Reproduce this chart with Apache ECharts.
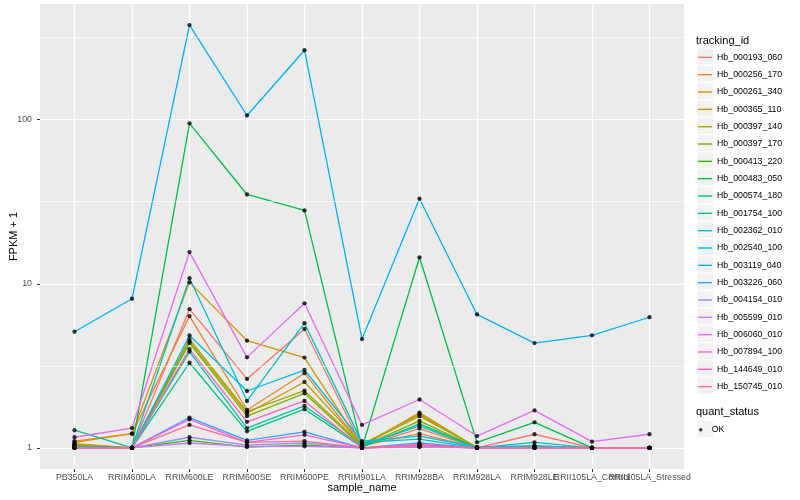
<!DOCTYPE html>
<html><head><meta charset="utf-8">
<script src="https://cdn.jsdelivr.net/npm/echarts@6/dist/echarts.min.js"></script>
<style>html,body{margin:0;padding:0;background:#fff}#c{width:800px;height:500px}</style>
</head><body><div id="c"></div>
<script>
const categories = ['PB350LA','RRIM600LA','RRIM600LE','RRIM600SE','RRIM600PE','RRIM901LA','RRIM928BA','RRIM928LA','RRIM928LE','RRII105LA_Control','RRII105LA_Stressed'];
const trackingIds = ['Hb_000193_060','Hb_000256_170','Hb_000261_340','Hb_000365_110','Hb_000397_140','Hb_000397_170','Hb_000413_220','Hb_000483_050','Hb_000574_180','Hb_001754_100','Hb_002362_010','Hb_002540_100','Hb_003119_040','Hb_003226_060','Hb_004154_010','Hb_005599_010','Hb_006060_010','Hb_007894_100','Hb_144649_010','Hb_150745_010'];

const hb_000193_060 = [1.05, 1.00, 7.0, 2.63, 5.3, 1.02, 1.31, 1.00, 1.21, 1.00, 1.00];
const hb_000256_170 = [1.10, 1.22, 6.35, 1.70, 2.85, 1.03, 1.22, 1.00, 1.01, 1.00, 1.00];
const hb_000261_340 = [1.08, 1.22, 10.2, 4.5, 3.55, 1.02, 1.64, 1.00, 1.02, 1.00, 1.00];
const hb_000365_110 = [1.06, 1.00, 4.44, 1.62, 2.52, 1.05, 1.60, 1.00, 1.02, 1.00, 1.00];
const hb_000397_140 = [1.04, 1.00, 4.6, 1.66, 2.23, 1.04, 1.56, 1.01, 1.01, 1.00, 1.00];
const hb_000397_170 = [1.03, 1.00, 4.35, 1.56, 2.15, 1.02, 1.46, 1.00, 1.00, 1.00, 1.00];
const hb_000413_220 = [1.00, 1.00, 1.11, 1.01, 1.04, 1.00, 1.02, 1.00, 1.00, 1.00, 1.00];
const hb_000483_050 = [1.00, 1.00, 95, 35, 28, 1.00, 14.5, 1.08, 1.43, 1.00, 1.00];
const hb_000574_180 = [1.02, 1.00, 3.3, 1.26, 1.72, 1.01, 1.40, 1.00, 1.00, 1.00, 1.00];
const hb_001754_100 = [1.28, 1.00, 3.86, 1.32, 1.80, 1.03, 1.36, 1.00, 1.00, 1.00, 1.00];
const hb_002362_010 = [1.02, 1.00, 10.8, 1.93, 5.75, 1.08, 1.13, 1.00, 1.08, 1.00, 1.00];
const hb_002540_100 = [1.01, 1.00, 4.84, 2.22, 2.98, 1.10, 1.18, 1.01, 1.03, 1.00, 1.00];
const hb_003119_040 = [5.1, 8.1, 377, 106, 265, 4.6, 33, 6.5, 4.35, 4.85, 6.25];
const hb_003226_060 = [1.00, 1.00, 1.53, 1.11, 1.25, 1.00, 1.07, 1.00, 1.00, 1.00, 1.00];
const hb_004154_010 = [1.00, 1.00, 1.16, 1.04, 1.07, 1.00, 1.02, 1.00, 1.00, 1.00, 1.00];
const hb_005599_010 = [1.00, 1.00, 1.07, 1.02, 1.02, 1.00, 1.01, 1.00, 1.00, 1.00, 1.00];
const hb_006060_010 = [1.16, 1.32, 15.6, 3.56, 7.6, 1.38, 1.97, 1.18, 1.69, 1.09, 1.21];
const hb_007894_100 = [1.00, 1.00, 1.49, 1.08, 1.20, 1.00, 1.04, 1.00, 1.00, 1.00, 1.00];
const hb_144649_010 = [1.00, 1.00, 4.0, 1.44, 1.93, 1.00, 1.05, 1.00, 1.00, 1.00, 1.00];
const hb_150745_010 = [1.00, 1.00, 1.38, 1.08, 1.10, 1.00, 1.03, 1.00, 1.00, 1.00, 1.00];

const seriesValues = [hb_000193_060, hb_000256_170, hb_000261_340, hb_000365_110, hb_000397_140, hb_000397_170, hb_000413_220, hb_000483_050, hb_000574_180, hb_001754_100, hb_002362_010, hb_002540_100, hb_003119_040, hb_003226_060, hb_004154_010, hb_005599_010, hb_006060_010, hb_007894_100, hb_144649_010, hb_150745_010];

const yTicks = [1, 10, 100];
const yMinorTicks = [3.1623, 31.623, 316.23];
const statusLevels = ['OK'];

const palette = ['#F8766D','#EA8331','#D89000','#C09B00','#A3A500','#7CAE00','#39B600','#00BB4E','#00BF7D','#00C1A3','#00BFC4','#00BAE0','#00B0F6','#35A2FF','#9590FF','#C77CFF','#E76BF3','#FA62DB','#FF62BC','#FF6C91'];

const font = '"Liberation Sans", Arial, Helvetica, sans-serif';
const yMin = 0.743, yMax = 507;
const keyH = 17.33, keyTop = 48, okTop = 420.5;

const chart = echarts.init(document.getElementById('c'), null, {renderer: 'canvas'});

const lineSeries = trackingIds.map((id, i) => ({
  name: id, type: 'line', xAxisIndex: 1, yAxisIndex: 1,
  data: seriesValues[i], showSymbol: false, symbol: 'none',
  lineStyle: {width: 1.3, color: palette[i]}, itemStyle: {color: palette[i]},
  emphasis: {disabled: true}, z: 2
}));

const pointData = [];
seriesValues.forEach(arr => arr.forEach((v, j) => pointData.push([categories[j], v])));

const keyRects = trackingIds.map((id, i) => ({
  type: 'rect', shape: {x: 697, y: keyTop + i * keyH, width: 16.5, height: keyH},
  style: {fill: '#F2F2F2', stroke: '#FFFFFF', lineWidth: 1}, z: 0, silent: true
}));
keyRects.push({type: 'rect', shape: {x: 697, y: okTop, width: 16.5, height: keyH},
  style: {fill: '#F2F2F2', stroke: '#FFFFFF', lineWidth: 1}, z: 0, silent: true});

const option = {
  animation: false,
  backgroundColor: '#FFFFFF',
  textStyle: {fontFamily: font},
  title: [
    {text: 'tracking_id', left: 696, top: 35, padding: 0, textStyle: {fontSize: 11, fontWeight: 'normal', color: '#000', fontFamily: font}},
    {text: 'quant_status', left: 696, top: 406, padding: 0, textStyle: {fontSize: 11, fontWeight: 'normal', color: '#000', fontFamily: font}}
  ],
  grid: [
    {left: 40, right: 116, top: 4, bottom: 31, show: true, backgroundColor: '#EBEBEB', borderWidth: 0, containLabel: false, outerBoundsMode: 'none'},
    {left: 74.5, right: 150.5, top: 4, bottom: 31, show: false, containLabel: false, outerBoundsMode: 'none'}
  ],
  xAxis: [
    {type: 'value', gridIndex: 0, min: 0, max: 1, show: false},
    {type: 'category', gridIndex: 1, data: categories, boundaryGap: false,
     axisLine: {show: false},
     axisTick: {show: true, length: 3, lineStyle: {color: '#333333', width: 1}},
     axisLabel: {interval: 0, margin: 4, fontSize: 8.8, color: '#4D4D4D', fontFamily: font},
     splitLine: {show: true, lineStyle: {color: '#FFFFFF', width: 1.2}},
     name: 'sample_name', nameLocation: 'middle', nameGap: 13, nameMoveOverlap: false,
     nameTextStyle: {fontSize: 11, color: '#000', fontFamily: font}}
  ],
  yAxis: [
    {type: 'log', logBase: 10, gridIndex: 0, min: yMin, max: yMax,
     axisLine: {show: false},
     axisTick: {show: true, length: 3, customValues: yTicks, lineStyle: {color: '#333333', width: 1}},
     axisLabel: {customValues: yTicks, margin: 8, fontSize: 8.8, color: '#4D4D4D', fontFamily: font},
     splitLine: {show: true, lineStyle: {color: '#FFFFFF', width: 1.2}},
     minorTick: {show: false}, minorSplitLine: {show: false},
     name: 'FPKM + 1', nameLocation: 'middle', nameGap: 21, nameMoveOverlap: false,
     nameTextStyle: {fontSize: 11, color: '#000', fontFamily: font}},
    {type: 'log', logBase: 10, gridIndex: 1, min: yMin, max: yMax, show: false}
  ],
  legend: [
    {orient: 'vertical', left: 698, top: 48.7, padding: 0, itemGap: 0, itemWidth: 14, itemHeight: 1.4,
     icon: 'rect', data: trackingIds, selectedMode: false,
     textStyle: {fontSize: 8.8, color: '#000', lineHeight: keyH, fontFamily: font}},
    {orient: 'vertical', left: 699, top: 421.2, padding: 0, itemGap: 0, itemWidth: 12, itemHeight: 3.5,
     icon: 'circle', data: statusLevels, selectedMode: false,
     textStyle: {fontSize: 8.8, color: '#000', lineHeight: keyH, fontFamily: font}}
  ],
  graphic: keyRects,
  series: [
    {name: 'minor', type: 'line', xAxisIndex: 0, yAxisIndex: 0, data: [[0.5, 1]],
     showSymbol: false, symbol: 'none', lineStyle: {width: 0}, silent: true, z: 1,
     markLine: {silent: true, symbol: 'none', label: {show: false},
       lineStyle: {color: '#FFFFFF', width: 0.6, type: 'solid'},
       emphasis: {disabled: true},
       data: yMinorTicks.map(v => ({yAxis: v}))}},
    ...lineSeries,
    {name: 'OK', type: 'scatter', xAxisIndex: 1, yAxisIndex: 1, data: pointData,
     symbol: 'circle', symbolSize: 4.3, itemStyle: {color: '#000000'}, z: 3, silent: true}
  ]
};
chart.setOption(option);
</script></body></html>
